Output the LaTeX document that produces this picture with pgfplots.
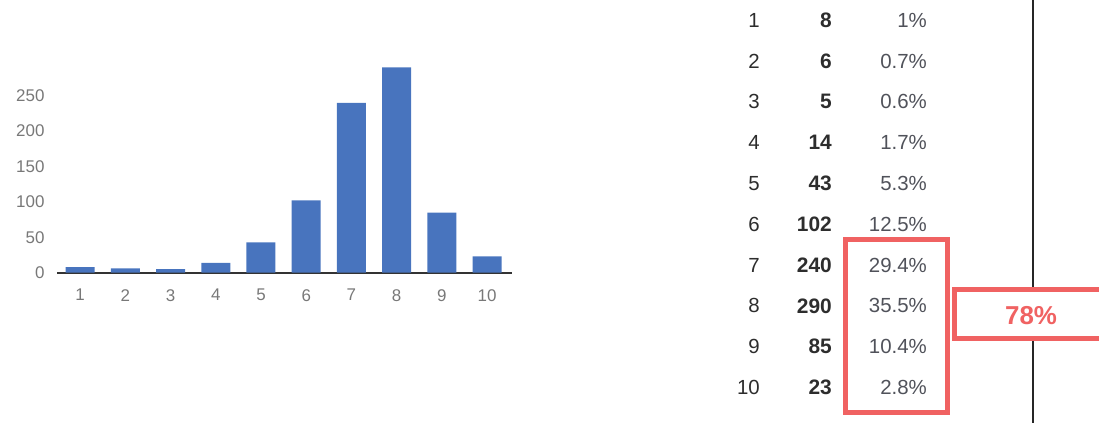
\documentclass[border=0pt]{standalone}
\usepackage{pgfplots}
\pgfplotsset{compat=1.18}
\usepackage{pgfplotstable}
\usepackage{fontspec}
\setmainfont{Liberation Sans}

\definecolor{barblue}{RGB}{72,116,190}
\definecolor{boxred}{RGB}{240,98,98}
\definecolor{ticklab}{RGB}{120,120,120}
\definecolor{tabdark}{RGB}{45,45,45}
\definecolor{tabpct}{RGB}{80,82,90}

% counts per score
\pgfplotstableread{
k n pct
1 8 1\%
2 6 0.7\%
3 5 0.6\%
4 14 1.7\%
5 43 5.3\%
6 102 12.5\%
7 240 29.4\%
8 290 35.5\%
9 85 10.4\%
10 23 2.8\%
}\scores

\begin{document}
\begin{tikzpicture}[x=1bp,y=1bp]
\path[use as bounding box] (0,0) rectangle (1099,423);

% bar chart
\begin{axis}[
  at={(57bp,150.3bp)}, anchor=south west,
  scale only axis, width=455bp, height=212.4bp,
  xmin=0.49, xmax=10.55, ymin=0, ymax=300,
  ybar, bar width=29bp,
  axis x line*=bottom, axis y line*=left,
  x axis line style={draw=black!80, line width=2bp, -},
  y axis line style={draw=none},
  major tick length=0pt,
  xtick={1,...,10}, ytick={0,50,...,250},
  /pgf/number format/assume math mode=true,
  tick label style={font=\fontsize{17}{17}\selectfont, text=ticklab},
  xticklabel style={yshift=-13bp},
  yticklabel style={xshift=-9bp},
  clip=false,
]
\addplot[fill=barblue, draw=none] table[x=k, y=n] {\scores};
\end{axis}

% table and boxes, pixel coordinates from the top
\begin{axis}[
  at={(0,0)}, anchor=south west,
  scale only axis, width=1099bp, height=423bp,
  xmin=0, xmax=1099, ymin=0, ymax=423, y dir=reverse,
  hide axis, clip=false,
]
\draw[black!85, line width=1.4bp] (axis cs:1033,0) -- (axis cs:1033,423);
\addplot[draw=none, mark=none, nodes near coords, point meta=explicit symbolic,
  nodes near coords style={anchor=east, inner sep=0pt, text=tabdark,
    font=\fontsize{20.5}{20.5}\selectfont}]
  table[x expr=760, y expr={20.3+(\thisrow{k}-1)*40.8}, meta=k] {\scores};
\addplot[draw=none, mark=none, nodes near coords, point meta=explicit symbolic,
  nodes near coords style={anchor=east, inner sep=0pt, text=tabdark,
    font=\fontsize{21}{21}\selectfont\bfseries}]
  table[x expr=832, y expr={20.3+(\thisrow{k}-1)*40.8}, meta=n] {\scores};
\addplot[draw=none, mark=none, nodes near coords, point meta=explicit symbolic,
  nodes near coords style={anchor=east, inner sep=0pt, text=tabpct,
    font=\fontsize{20.5}{20.5}\selectfont}]
  table[x expr=927, y expr={20.3+(\thisrow{k}-1)*40.8}, meta=pct] {\scores};
\draw[boxred, line width=5bp] (axis cs:845.5,239.5) rectangle (axis cs:947.5,412.5);
\draw[boxred, line width=5bp, fill=white] (axis cs:954.5,289.5) rectangle (axis cs:1110,338.5);
\node[text=boxred, font=\fontsize{26}{26}\selectfont\bfseries] at (axis cs:1031,316) {78\%};
\end{axis}
\end{tikzpicture}
\end{document}
